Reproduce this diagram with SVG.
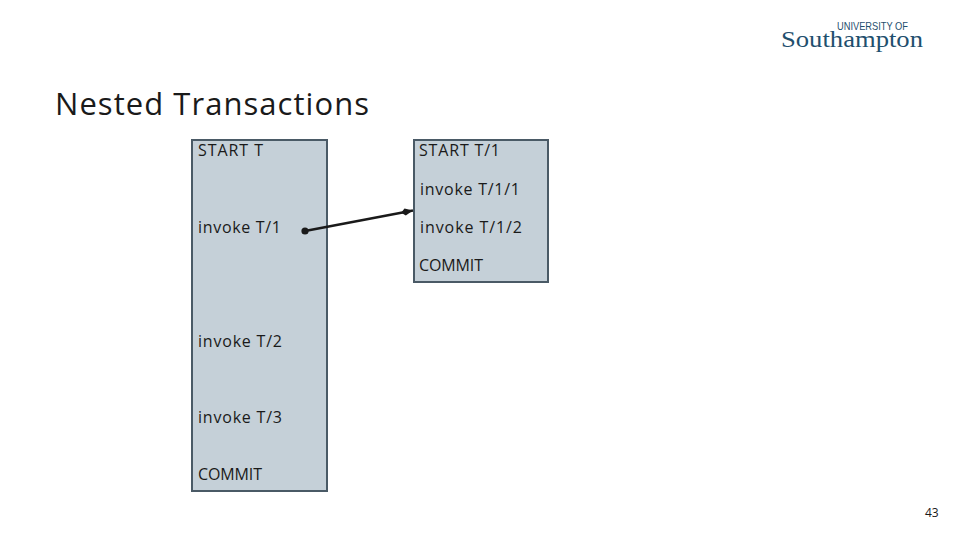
<svg xmlns="http://www.w3.org/2000/svg" width="960" height="540" viewBox="0 0 960 540">
<style>
text{font-family:"Open Sans","DejaVu Sans",sans-serif;fill:#1a1a1a}
.box{fill:#c5d0d8;stroke:#4a5a66;stroke-width:2}
.t{font-size:16px}
.c{stroke:#1a1a1a;stroke-width:2.4;fill:none}
</style>
<defs>
<marker id="dot" markerUnits="userSpaceOnUse" markerWidth="10" markerHeight="10" refX="5" refY="5"><circle cx="5" cy="5" r="3.6" fill="#1a1a1a"/></marker>
<marker id="head" markerUnits="userSpaceOnUse" markerWidth="14" markerHeight="10" refX="12" refY="5" orient="auto"><path d="M0 5 L4 1.5 L12 5 L4 8.5 Z" fill="#1a1a1a"/></marker>
</defs>
<rect width="960" height="540" fill="#fff"/>
<g id="logo">
<text x="837" y="30" font-size="11" textLength="71" lengthAdjust="spacingAndGlyphs" style="font-family:'Liberation Sans',sans-serif;fill:#1f4f6e">UNIVERSITY OF</text>
<text x="781" y="47" font-size="24" textLength="142" lengthAdjust="spacingAndGlyphs" style="font-family:'Liberation Serif',serif;fill:#1f4f6e">Southampton</text>
</g>
<text id="title" x="55" y="115" font-size="31" textLength="314" lengthAdjust="spacing">Nested Transactions</text>
<g id="node-t">
<rect class="box" x="192" y="140" width="135" height="351"/>
<text class="t" x="198" y="156" textLength="65">START T</text>
<text class="t" x="198" y="233" textLength="83">invoke T/1</text>
<text class="t" x="198" y="347" textLength="84">invoke T/2</text>
<text class="t" x="198" y="423" textLength="84">invoke T/3</text>
<text class="t" x="198" y="480" textLength="64">COMMIT</text>
</g>
<g id="node-t1">
<rect class="box" x="414" y="140" width="134" height="142"/>
<text class="t" x="419" y="156" textLength="81">START T/1</text>
<text class="t" x="420" y="195" textLength="100">invoke T/1/1</text>
<text class="t" x="420" y="233" textLength="102">invoke T/1/2</text>
<text class="t" x="419" y="271" textLength="64">COMMIT</text>
</g>
<g id="connectors">
<line class="c" x1="305" y1="231" x2="413" y2="210.500" marker-start="url(#dot)" marker-end="url(#head)"/>
</g>
<text id="page" x="925" y="517" font-size="12">43</text>
</svg>
